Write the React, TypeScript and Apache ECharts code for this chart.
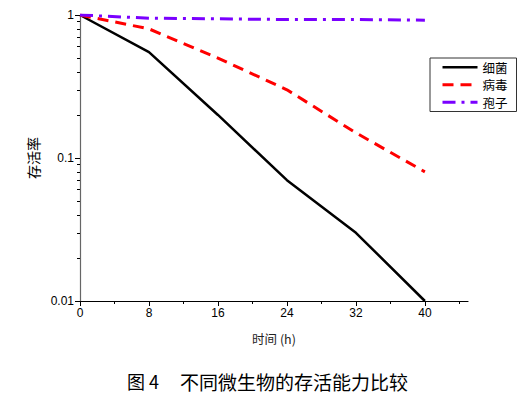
import React, { useEffect, useRef } from "react";
import * as echarts from "echarts";

const hours = [0, 8, 16, 24, 32, 40];
const bacteria = [1, 0.55, 0.2, 0.07, 0.03, 0.01];
const virus = [1, 0.8, 0.5, 0.3, 0.15, 0.08];
const spore = [1, 0.95, 0.94, 0.93, 0.93, 0.92];
const xMajor = [0, 8, 16, 24, 32, 40];
const xMinor = [4, 12, 20, 28, 36, 44];
const yMajor = [0.01, 0.1, 1];
const yMinor = [0.02, 0.03, 0.04, 0.05, 0.06, 0.07, 0.08, 0.09, 0.2, 0.3, 0.4, 0.5, 0.6, 0.7, 0.8, 0.9];
const seriesNames = ["细菌", "病毒", "孢子"];

const CJK = "'Noto Sans CJK SC', sans-serif";
const LAT = "'Liberation Sans', Arial, sans-serif";

const colors = ["#000000", "#ff0000", "#7a00ff"];
const widths = [2.5, 3, 3];
const dashes: any[] = ["solid", [11, 7], [13, 6, 3, 6]];

export default function App() {
  const ref = useRef<HTMLDivElement>(null);
  useEffect(() => {
    if (!ref.current) return;
    const chart = echarts.init(ref.current, null, { renderer: "svg" });
    const pair = (ys: number[]) => hours.map((h, i) => [h, ys[i]]);
    const grid = { left: 80, top: 15, right: 62, bottom: 96 };
    const seriesData = [bacteria, virus, spore];
    chart.setOption({
      animation: false,
      grid,
      legend: {
        left: 430,
        top: 58,
        orient: "vertical",
        backgroundColor: "#fff",
        borderColor: "#333",
        borderWidth: 1,
        padding: [3, 9, 3, 11],
        itemGap: 5,
        itemWidth: 35,
        itemHeight: 12,
        textStyle: { fontFamily: CJK, fontSize: 12.5, lineHeight: 12, color: "#000" },
        data: seriesNames.map((n, i) => ({
          name: n,
          itemStyle: { opacity: 0 },
          lineStyle: { color: colors[i], width: widths[i], type: dashes[i] },
        })),
      },
      xAxis: [
        {
          type: "value",
          min: 0,
          max: 45,
          interval: 8,
          name: "时间 (h)",
          nameLocation: "middle",
          nameGap: 31,
          nameTextStyle: { fontFamily: CJK, fontSize: 12.5, color: "#222" },
          axisLine: { show: true, lineStyle: { color: "#000", width: 1.2 } },
          axisTick: { show: true, length: 5, customValues: xMajor, lineStyle: { color: "#000" } },
          axisLabel: { customValues: xMajor, fontFamily: LAT, fontSize: 12, color: "#000", margin: 6 },
          splitLine: { show: false },
        },
        {
          type: "value",
          min: 0,
          max: 45,
          position: "bottom",
          axisLine: { show: false },
          axisTick: { show: true, length: 3, customValues: xMinor, lineStyle: { color: "#000" } },
          axisLabel: { show: false },
          splitLine: { show: false },
        },
      ],
      yAxis: [
        {
          type: "log",
          min: 0.01,
          max: 1,
          logBase: 10,
          name: "存活率",
          nameLocation: "middle",
          nameGap: 40,
          nameRotate: 90,
          nameTextStyle: { fontFamily: CJK, fontSize: 14, color: "#000" },
          axisLine: { show: true, lineStyle: { color: "#666", width: 1.2 } },
          axisTick: { show: true, length: 5, customValues: yMajor, lineStyle: { color: "#000" } },
          axisLabel: {
            customValues: yMajor,
            fontFamily: LAT,
            fontSize: 12,
            color: "#000",
            margin: 6,
            formatter: (v: number) => String(v),
          },
          splitLine: { show: false },
        },
        {
          type: "log",
          min: 0.01,
          max: 1,
          logBase: 10,
          position: "left",
          axisLine: { show: false },
          axisTick: { show: true, length: 3, customValues: yMinor, lineStyle: { color: "#000" } },
          axisLabel: { show: false },
          splitLine: { show: false },
        },
      ],
      series: seriesNames.map((n, i) => ({
        name: n,
        type: "line",
        data: pair(seriesData[i]),
        symbol: "none",
        lineStyle: { color: colors[i], width: widths[i], type: dashes[i] },
        itemStyle: { color: colors[i] },
      })),
      graphic: [
        {
          type: "text",
          left: 127,
          top: 372,
          style: { text: "图 4", fontFamily: CJK, fontSize: 18, fill: "#000" },
        },
        {
          type: "text",
          left: 180,
          top: 372,
          style: {
            text: "不同微生物的存活能力比较",
            fontFamily: CJK,
            fontSize: 19,
            fill: "#000",
          },
        },
      ],
    });
    return () => chart.dispose();
  }, []);
  return <div ref={ref} style={{ width: 530, height: 397, position: "absolute", left: 0, top: 0 }} />;
}
